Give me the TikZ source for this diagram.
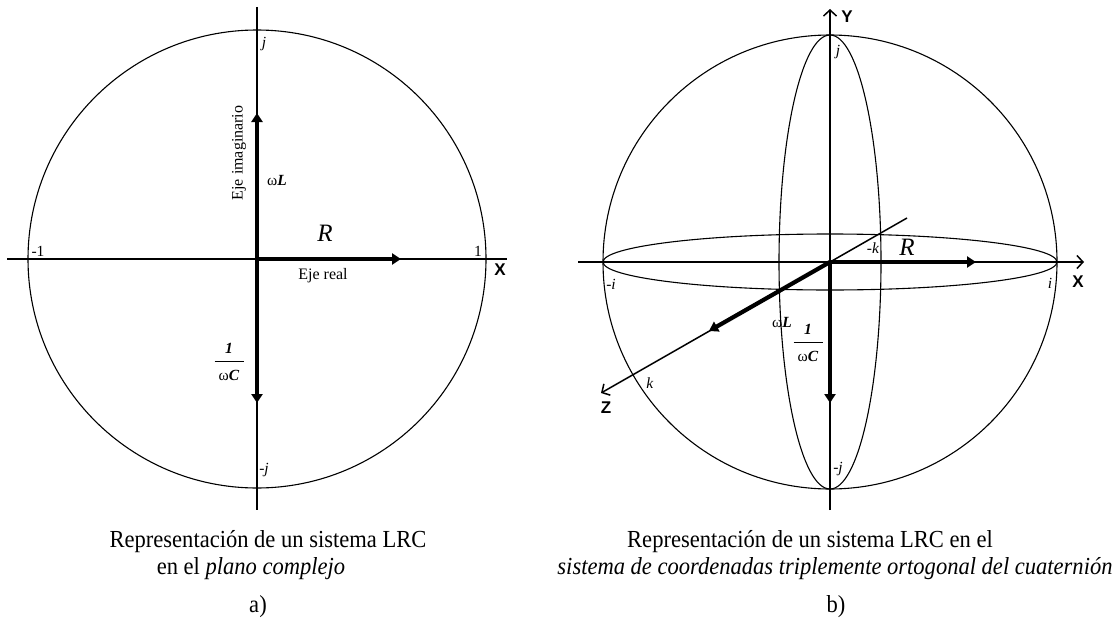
\documentclass[tikz,border=0pt]{standalone}
\usepackage{fontspec}
\setmainfont{Liberation Serif}
\setsansfont{Liberation Sans}
\newfontfamily\capfont[FakeStretch=0.92]{Liberation Serif}
\usetikzlibrary{arrows.meta}

\begin{document}
\begin{tikzpicture}[x=1pt, y=-1pt,
    axis/.style={line width=1.5pt},
    axisarrow/.style={axis, -{Straight Barb[length=6pt, width=13pt]}},
    shell/.style={line width=1.1pt},
    phasor/.style={line width=4.2pt, -{Triangle[length=9pt, width=11pt]}},
    lbl/.style={font=\fontsize{15.5}{17}\selectfont, inner sep=1pt},
    axlbl/.style={font=\fontsize{17}{19}\selectfont\sffamily\bfseries, inner sep=1pt},
    captxt/.style={font=\capfont\fontsize{24.5}{27}\selectfont, inner sep=0pt}
  ]
  \useasboundingbox (0,0) rectangle (1118,626);

  % a) complex plane
  \coordinate (O1) at (257,259);
  \draw[shell] (O1) circle [radius=229];
  \coordinate (w1) at (7,259);
  \coordinate (e1) at (507,259);
  \coordinate (n1) at (257,7);
  \coordinate (s1) at (257,510);
  \draw[axis] (w1) -- (e1);
  \draw[axis] (n1) -- (s1);

  % Phasors
  \coordinate (L1) at (257,113);
  \coordinate (C1) at (257,403);
  \coordinate (R1) at (401,259);
  \draw[phasor] (O1) -- (L1);
  \draw[phasor] (O1) -- (C1);
  \draw[phasor] (O1) -- (R1);

  \node[lbl] (j1) at (264,44) {\textit{j}};
  \node[lbl] (mj1) at (264,470) {\textit{-j}};
  \node[lbl] (m1) at (38,251) {-1};
  \node[lbl] (p1) at (478,251) {1};
  \node[axlbl] (x1) at (500,270) {X};
  \node[lbl, font=\fontsize{16}{18}\selectfont, rotate=90] (im) at (239,153) {Eje imaginario};
  \node[lbl, font=\fontsize{16}{18}\selectfont] (re) at (323,276) {Eje real};
  \node[lbl] (wl1) at (277,180) {ω\textbf{\textit{L}}};
  \node[lbl, font=\fontsize{25}{27}\selectfont\itshape] (r1) at (325,233) {R};
  \node[lbl, align=center] (wc1) at (229,362) {\textbf{\textit{1}}\\[-9pt]\rule{29pt}{0.6pt}\\[2pt]ω\textbf{\textit{C}}};

  % b) quaternion sphere
  \coordinate (O2) at (830,262);
  \draw[shell] (O2) circle [radius=227];
  \draw[shell] (O2) ellipse [x radius=227, y radius=28];
  \draw[shell] (O2) ellipse [x radius=51, y radius=227];
  \coordinate (s2) at (830,510);
  \coordinate (Y) at (830,9);
  \coordinate (w2) at (578,262);
  \coordinate (X) at (1084,262);
  \coordinate (kb) at (907,218);
  \coordinate (Z) at (601,393);
  \draw[axisarrow] (s2) -- (Y);
  \draw[axisarrow] (w2) -- (X);
  \draw[axisarrow] (kb) -- (Z);

  % Phasors
  \coordinate (R2) at (976,262);
  \coordinate (L2) at (709,331);
  \coordinate (C2) at (830,403);
  \draw[phasor] (O2) -- (R2);
  \draw[phasor] (O2) -- (L2);
  \draw[phasor] (O2) -- (C2);

  \node[axlbl] (y2) at (847,17) {Y};
  \node[axlbl] (x2) at (1078,282) {X};
  \node[axlbl] (z2) at (606,408) {Z};
  \node[lbl] (j2) at (838,52) {\textit{j}};
  \node[lbl] (mj2) at (838,469) {\textit{-j}};
  \node[lbl] (i2) at (1050,283) {\textit{i}};
  \node[lbl] (mi2) at (611,284) {\textit{-i}};
  \node[lbl] (k2) at (650,383) {\textit{k}};
  \node[lbl] (mk2) at (873,248) {\textit{-k}};
  \node[lbl, font=\fontsize{25}{27}\selectfont\itshape] (r2) at (907,247) {R};
  \node[lbl] (wl2) at (782,322) {ω\textbf{\textit{L}}};
  \node[lbl, align=center] (wc2) at (808,343) {\textbf{\textit{1}}\\[-9pt]\rule{29pt}{0.6pt}\\[2pt]ω\textbf{\textit{C}}};

  % Captions
  \node[captxt] (ta1) at (268,542) {Representación de un sistema LRC};
  \node[captxt] (ta2) at (251,569) {en el \textit{plano complejo}};
  \node[captxt] (ta3) at (258,607) {a)};
  \node[captxt, anchor=west] (tb1) at (627,542) {Representación de un sistema LRC en el};
  \node[captxt] (tb2) at (835,569) {\textit{sistema de coordenadas triplemente ortogonal del cuaternión}};
  \node[captxt] (tb3) at (836,607) {b)};
\end{tikzpicture}
\end{document}
